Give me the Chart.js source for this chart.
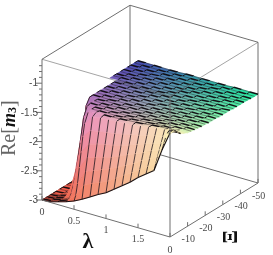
<!DOCTYPE html>
<html>
<head>
<meta charset="utf-8">
<title>Re[m3]</title>
<script src="https://cdn.jsdelivr.net/npm/chart.js@4/dist/chart.umd.min.js"></script>
<style>
html, body { margin: 0; padding: 0; background: #fff; }
canvas { display: block; filter: blur(0.45px); }
</style>
</head>
<body>
<canvas id="surface" width="273" height="255"></canvas>
<script>
const lambdaValues = [0, 0.125, 0.25, 0.375, 0.5, 0.625, 0.75, 0.875, 1, 1.125, 1.25, 1.375, 1.5, 1.625, 1.75, 1.875, 2];
const xiValues = [0, -1, -2, -3, -4, -5, -6, -8, -10, -12, -14, -16, -18, -20, -22, -24, -26, -28, -30, -32, -34, -36, -38, -40, -42, -44, -46, -48, -50];
// one row per xi value, one column per lambda value, null where the surface has no sheet
const reM3 = [
    [-3, -2.99, -2.95, -2.91, -2.86, -2.79, -2.71, -2.63, -2.56, -2.46, -2.36, -2.26, -2.14, -2.04, -1.94, -1.55, -1.22],
    [-3, -2.99, -2.95, -2.9, -2.78, -2.57, -2.5, -2.44, -2.38, -2.29, -2.2, -2.12, -2.02, -1.93, -1.84, -1.46, -1.22],
    [-3, -2.99, -2.95, -2.88, -2.6, -2.36, -2.3, -2.24, -2.19, -2.12, -2.05, -1.98, -1.89, -1.82, -1.74, -1.38, -1.22],
    [-3, -2.99, -2.95, -2.82, -2.35, -2.14, -2.09, -2.05, -2.01, -1.95, -1.89, -1.83, -1.77, -1.7, -1.65, -1.32, -1.25],
    [-3, -2.99, -2.95, -2.72, -2.1, -1.92, -1.88, -1.85, -1.82, -1.78, -1.74, -1.69, -1.64, -1.59, -1.55, -1.29, -1.28],
    [-3, -2.99, -2.95, -2.6, -1.85, -1.71, -1.68, -1.66, -1.64, -1.61, -1.58, -1.55, -1.52, -1.48, -1.45, -1.3, -1.31],
    [-3, -2.99, -2.95, -2.45, -1.65, -1.49, -1.47, -1.46, -1.45, -1.44, -1.43, -1.41, -1.39, -1.37, -1.35, -1.32, -1.34],
    [-3, -2.99, -2.93, -2.05, -1.49, -1.45, -1.45, -1.45, -1.44, -1.43, -1.42, -1.41, -1.39, -1.38, -1.37, -1.36, -1.37],
    [-3, -2.99, -2.85, -1.65, -1.47, -1.46, -1.46, -1.46, -1.45, -1.44, -1.43, -1.42, -1.41, -1.4, -1.4, -1.39, -1.4],
    [-3, -2.99, -2.6, -1.5, -1.47, -1.47, -1.47, -1.46, -1.46, -1.45, -1.44, -1.43, -1.42, -1.41, -1.41, -1.41, -1.41],
    [-3, -2.98, -2.1, -1.48, -1.48, -1.47, -1.47, -1.47, -1.46, -1.45, -1.45, -1.44, -1.43, -1.42, -1.42, -1.42, -1.42],
    [-3, -2.95, -1.6, -1.48, -1.48, -1.48, -1.47, -1.47, -1.47, -1.46, -1.45, -1.45, -1.44, -1.43, -1.43, -1.43, -1.43],
    [-3, -2.9, -1.49, -1.49, -1.48, -1.48, -1.48, -1.47, -1.47, -1.46, -1.46, -1.45, -1.45, -1.44, -1.44, -1.44, -1.44],
    [-3, -2.85, -1.49, -1.49, -1.49, -1.48, -1.48, -1.48, -1.47, -1.47, -1.46, -1.46, -1.45, -1.45, -1.44, -1.44, -1.44],
    [null, null, -1.49, -1.49, -1.49, -1.48, -1.48, -1.48, -1.48, -1.47, -1.47, -1.46, -1.46, -1.45, -1.45, -1.45, -1.45],
    [null, null, -1.49, -1.49, -1.49, -1.49, -1.48, -1.48, -1.48, -1.47, -1.47, -1.47, -1.46, -1.46, -1.45, -1.45, -1.45],
    [null, null, -1.49, -1.49, -1.49, -1.49, -1.48, -1.48, -1.48, -1.48, -1.47, -1.47, -1.46, -1.46, -1.46, -1.45, -1.45],
    [null, null, -1.49, -1.49, -1.49, -1.49, -1.49, -1.48, -1.48, -1.48, -1.47, -1.47, -1.47, -1.46, -1.46, -1.46, -1.46],
    [null, null, -1.49, -1.49, -1.49, -1.49, -1.49, -1.48, -1.48, -1.48, -1.48, -1.47, -1.47, -1.47, -1.46, -1.46, -1.46],
    [null, null, -1.49, -1.49, -1.49, -1.49, -1.49, -1.49, -1.48, -1.48, -1.48, -1.47, -1.47, -1.47, -1.47, -1.46, -1.46],
    [null, -1.5, -1.49, -1.49, -1.49, -1.49, -1.49, -1.49, -1.48, -1.48, -1.48, -1.48, -1.47, -1.47, -1.47, -1.47, -1.46],
    [null, -1.5, -1.49, -1.49, -1.49, -1.49, -1.49, -1.49, -1.49, -1.48, -1.48, -1.48, -1.48, -1.47, -1.47, -1.47, -1.47],
    [null, -1.5, -1.5, -1.49, -1.49, -1.49, -1.49, -1.49, -1.49, -1.48, -1.48, -1.48, -1.48, -1.48, -1.47, -1.47, -1.47],
    [null, -1.5, -1.5, -1.5, -1.49, -1.49, -1.49, -1.49, -1.49, -1.49, -1.48, -1.48, -1.48, -1.48, -1.47, -1.47, -1.47],
    [null, -1.5, -1.5, -1.5, -1.49, -1.49, -1.49, -1.49, -1.49, -1.49, -1.49, -1.48, -1.48, -1.48, -1.48, -1.47, -1.47],
    [null, -1.5, -1.5, -1.5, -1.5, -1.49, -1.49, -1.49, -1.49, -1.49, -1.49, -1.48, -1.48, -1.48, -1.48, -1.48, -1.47],
    [null, -1.5, -1.5, -1.5, -1.5, -1.49, -1.49, -1.49, -1.49, -1.49, -1.49, -1.49, -1.48, -1.48, -1.48, -1.48, -1.48],
    [null, -1.5, -1.5, -1.5, -1.5, -1.5, -1.49, -1.49, -1.49, -1.49, -1.49, -1.49, -1.48, -1.48, -1.48, -1.48, -1.48],
    [null, -1.5, -1.5, -1.5, -1.5, -1.5, -1.5, -1.49, -1.49, -1.49, -1.49, -1.49, -1.49, -1.48, -1.48, -1.48, -1.48]
];
const lambdaTicks = [0, 0.5, 1, 1.5];
const xiTicks = [0, -10, -20, -30, -40, -50];
const zTicks = [-1, -1.5, -2, -2.5, -3];
const zMinorTicks = [-0.7, -0.8, -0.9, -1.1, -1.2, -1.3, -1.4, -1.6, -1.7, -1.8, -1.9, -2.1, -2.2, -2.3, -2.4, -2.6, -2.7, -2.8, -2.9];
const lambdaRange = [0, 2];
const xiRange = [0, -50];
const zRange = [-3, -0.59];

// oblique view of the box, in canvas units
function project(lambda, xi, z) {
    const t = xi / -50;
    return {
        x: 42 + 64 * lambda + 88 * t,
        y: 200 + 18.5 * lambda - 54 * t - 58.4 * (z + 3)
    };
}

function mix(a, b, k) {
    return a.map((v, i) => v + (b[i] - v) * k);
}

// surface colour follows lambda, xi and height
function cellColor(lambda, xi, z) {
    const u = lambda / 2;
    const v = Math.max(0, (xi / -50 - 0.12) / 0.88);
    const w = Math.min(1, Math.max(0, (z + 3) / 1.5));
    const front = mix([230, 112, 196], [252, 244, 180], u);
    const back = mix([70, 60, 180], [36, 236, 160], u);
    const high = mix(front, back, Math.pow(v, 0.75));
    const low = mix([240, 88, 72], [250, 214, 130], u);
    const c = mix(low, high, Math.pow(w, 1.1));
    return `rgb(${Math.round(c[0])},${Math.round(c[1])},${Math.round(c[2])})`;
}

const MESH = 'rgba(14,10,14,0.95)';
const MESH_THIN = 'rgba(14,10,14,0.6)';
const MESH_CLIFF = 'rgba(24,16,24,0.82)';
const paintList = [];

function addLine(points, color, width) {
    paintList.push({
        data: points,
        showLine: true,
        fill: false,
        borderColor: color,
        borderWidth: width,
        pointRadius: 0
    });
}

function boxLine(a, b, color, width) {
    addLine([project(a[0], a[1], a[2]), project(b[0], b[1], b[2])], color, width || 1);
}

const [l0, l1] = lambdaRange;
const [x0, x1] = xiRange;
const [z0, z1] = zRange;
const AXIS = '#6f6f6f';
const AXIS_FAINT = 'rgba(90,90,90,0.55)';

// box edges behind the surface
boxLine([l0, x1, z0], [l0, x1, z1], AXIS);
boxLine([l0, x1, z0], [l0, x0, z0], AXIS);
boxLine([l0, x1, z0], [l1, x1, z0], AXIS);
boxLine([l0, x1, z1], [l0, x0, z1], AXIS);
boxLine([l0, x1, z1], [l1, x1, z1], AXIS);
boxLine([l1, x1, z0], [l1, x1, z1], AXIS);

// surface cells, far to near
for (let j = xiValues.length - 2; j >= 0; j--) {
    for (let i = 0; i < lambdaValues.length - 1; i++) {
        const a = reM3[j][i];
        const b = reM3[j][i + 1];
        const c = reM3[j + 1][i + 1];
        const d = reM3[j + 1][i];
        if (a === null || b === null || c === null || d === null) continue;
        const lamMid = (lambdaValues[i] + lambdaValues[i + 1]) / 2;
        const xiMid = (xiValues[j] + xiValues[j + 1]) / 2;
        const fillColor = cellColor(lamMid, xiMid, (a + b + c + d) / 4);
        const steep = Math.abs(a + b - c - d) / 2 > 0.025;
        const brick = (i + j) % 2 === 0;
        const pa = project(lambdaValues[i], xiValues[j], a);
        const pb = project(lambdaValues[i + 1], xiValues[j], b);
        const pc = project(lambdaValues[i + 1], xiValues[j + 1], c);
        const pd = project(lambdaValues[i], xiValues[j + 1], d);
        paintList.push({
            data: [pa, pb, pc, pd, pa],
            showLine: true,
            fill: 'shape',
            backgroundColor: fillColor,
            borderColor: fillColor,
            borderWidth: 0.6,
            pointRadius: 0
        });
        if (!steep) addLine([pd, pc], brick ? MESH : MESH_THIN, brick ? 1.5 : 0.7);
        if (steep) addLine([pa, pd], MESH_CLIFF, 0.95);
        else if (brick) addLine([pa, pd], MESH, 1);
        if (j === 0) addLine([pa, pb], MESH, 1.1);
    }
}

// box edges in front of the surface
boxLine([l0, x0, z0], [l0, x0, z1], AXIS);
boxLine([l0, x0, z0], [l1, x0, z0], AXIS);
boxLine([l1, x0, z0], [l1, x1, z0], AXIS);
boxLine([l1, x0, z0], [l1, x0, z1], AXIS);
boxLine([l0, x0, z1], [l1, x0, z1], AXIS_FAINT);
boxLine([l1, x0, z1], [l1, x1, z1], AXIS_FAINT);

// tick marks
zTicks.forEach(z => addLine([project(0, 0, z), { x: project(0, 0, z).x - 6, y: project(0, 0, z).y }], AXIS, 1));
zMinorTicks.forEach(z => addLine([project(0, 0, z), { x: project(0, 0, z).x - 3, y: project(0, 0, z).y }], AXIS, 1));
lambdaTicks.forEach(l => boxLine([l, 0, -3], [l, 0, -2.93], AXIS));
xiTicks.forEach(x => boxLine([2, x, -3], [2, x, -2.93], AXIS));

const textPlugin = {
    id: 'boxText',
    afterDatasetsDraw(chart) {
        const ctx = chart.ctx;
        const sx = chart.scales.x;
        const sy = chart.scales.y;
        const at = p => ({ x: sx.getPixelForValue(p.x), y: sy.getPixelForValue(p.y) });
        ctx.save();
        ctx.fillStyle = '#4a4a4a';
        ctx.textBaseline = 'middle';
        ctx.font = '10px "Liberation Sans"';
        ctx.textAlign = 'right';
        zTicks.forEach(z => {
            const p = at(project(0, 0, z));
            ctx.fillText(String(z), p.x - 4, p.y + 0.5);
        });
        ctx.font = '10px "Liberation Serif"';
        ctx.textAlign = 'center';
        lambdaTicks.forEach(l => {
            const p = at(project(l, 0, -3));
            ctx.fillText(String(l), p.x, p.y + 12);
        });
        const zero = at(project(2, 0, -3));
        ctx.fillText('0', zero.x, zero.y + 13);
        ctx.textAlign = 'left';
        xiTicks.slice(1).forEach(x => {
            const p = at(project(2, x, -3));
            ctx.fillText(String(x), p.x - 6, p.y + 13);
        });
        // axis titles
        ctx.fillStyle = '#111';
        ctx.textAlign = 'center';
        ctx.font = 'bold 22px "Liberation Serif"';
        ctx.fillText('λ', 88, 242);
        ctx.save();
        ctx.translate(232, 237);
        ctx.rotate(-Math.PI / 2);
        ctx.font = 'bold 20px "Liberation Serif"';
        ctx.fillText('Ξ', 0, 0);
        ctx.restore();
        ctx.save();
        ctx.translate(10, 156);
        ctx.rotate(-Math.PI / 2);
        ctx.textAlign = 'left';
        const parts = [
            ['Re[', '20px "Liberation Serif"', '#666', 0],
            ['m', 'italic bold 18px "Liberation Serif"', '#111', 0],
            ['3', 'bold 12px "Liberation Serif"', '#111', 3],
            [']', '20px "Liberation Serif"', '#666', 0]
        ];
        let pos = 0;
        parts.forEach(([s, font, color, dy]) => {
            ctx.font = font;
            ctx.fillStyle = color;
            ctx.fillText(s, pos, dy);
            pos += ctx.measureText(s).width;
        });
        ctx.restore();
        ctx.restore();
    }
};

new Chart(document.getElementById('surface').getContext('2d'), {
    type: 'scatter',
    data: { datasets: paintList.reverse() },
    options: {
        responsive: false,
        animation: false,
        events: [],
        clip: false,
        layout: { padding: 0 },
        plugins: { legend: { display: false }, tooltip: { enabled: false } },
        scales: {
            x: { type: 'linear', min: 0, max: 273, display: false },
            y: { type: 'linear', min: 0, max: 255, reverse: true, display: false }
        }
    },
    plugins: [textPlugin]
});
</script>
</body>
</html>
